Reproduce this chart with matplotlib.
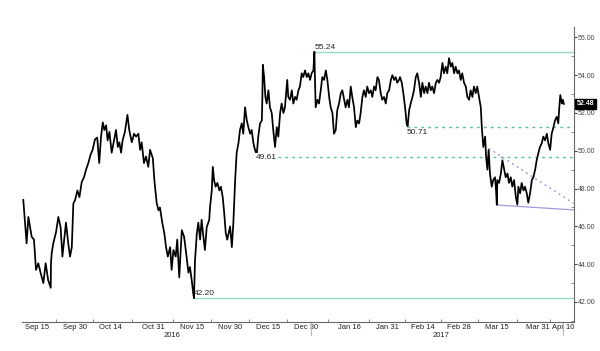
import pandas as pd
import matplotlib.pyplot as plt
import matplotlib.transforms as mtransforms

plt.rcParams['font.family'] = ['Liberation Sans Narrow', 'Liberation Sans', 'DejaVu Sans']

base = pd.Timestamp('2016-09-15')

# days after 2016-09-15 and closing price
days = [-5.4, -4.1, -3.4, -2.1, -1.2, -0.4, 0.5, 1.5, 2.5, 3.4, 4.4, 5.4, 5.5, 5.8, 6.4, 7.5, 8.4, 9.3,
        10.0, 10.7, 11.4, 12.3, 13.0, 13.7, 14.3, 15.0, 15.9, 16.7, 17.6, 18.5, 19.3, 20.2, 21.1, 21.9,
        22.8, 23.7, 24.5, 25.2, 25.9, 26.5, 27.2, 27.8, 28.5, 29.4, 30.3, 31.1, 31.8, 32.4, 33.1, 33.7,
        34.6, 35.6, 36.3, 37.3, 38.2, 39.0, 39.9, 40.6, 41.2, 42.1, 42.9, 43.8, 44.5, 45.6, 46.2, 47.1,
        47.8, 48.4, 49.3, 50.1, 50.8, 51.5, 52.4, 53.0, 53.7, 54.6, 55.2, 56.0, 57.0, 57.9, 58.7, 59.6,
        60.2, 60.9, 61.5, 61.8, 62.2, 62.9, 63.5, 64.2, 64.8, 65.5, 66.1, 66.8, 67.8, 68.1, 68.8, 69.2,
        69.7, 70.3, 71.0, 71.8, 72.4, 73.1, 73.7, 74.3, 74.9, 76.0, 76.7, 77.3, 78.0, 78.6, 79.3, 79.9,
        80.6, 81.2, 81.9, 82.6, 83.2, 83.9, 84.5, 85.2, 85.8, 86.5, 87.1, 87.8, 88.5, 88.7, 88.9, 89.4,
        89.9, 90.4, 91.1, 91.7, 92.4, 93.0, 93.7, 94.4, 95.0, 95.7, 96.3, 97.0, 97.6, 98.5, 98.9, 99.6,
        100.3, 100.9, 101.6, 102.2, 102.9, 103.5, 104.2, 104.8, 105.5, 106.2, 106.8, 107.5, 108.1, 108.8,
        109.2, 109.4, 109.7, 110.4, 111.0, 111.7, 112.3, 113.0, 113.7, 114.3, 115.0, 115.6, 116.3, 116.9,
        117.6, 118.2, 118.9, 119.6, 120.2, 120.9, 121.5, 122.2, 122.8, 123.5, 124.1, 124.8, 125.5, 126.1,
        126.8, 127.4, 128.1, 128.7, 129.4, 130.0, 130.7, 131.4, 132.0, 132.7, 133.3, 134.0, 134.6, 135.3,
        135.9, 136.6, 137.3, 137.9, 138.6, 139.3, 139.9, 140.6, 141.2, 141.8, 142.5, 142.9, 143.6, 144.2,
        144.9, 145.5, 145.9, 146.5, 147.1, 147.8, 148.4, 149.1, 149.7, 150.4, 151.1, 151.7, 152.4, 153.0,
        153.7, 154.3, 155.0, 155.6, 156.3, 157.0, 157.6, 158.3, 158.9, 159.6, 160.2, 160.9, 161.5, 162.2,
        162.9, 163.5, 164.2, 164.8, 165.5, 166.1, 166.8, 167.4, 168.1, 168.8, 169.4, 170.1, 170.7, 171.4,
        172.0, 172.7, 173.3, 174.0, 174.7, 175.1, 175.5, 175.7, 176.4, 176.8, 177.3, 177.8, 178.3, 179.0,
        179.6, 180.3, 180.7, 181.0, 181.2, 181.9, 182.6, 183.2, 183.9, 184.5, 185.2, 185.8, 186.5, 187.1,
        187.8, 188.5, 189.1, 189.5, 190.2, 190.8, 191.5, 192.1, 192.8, 193.4, 194.1, 194.8, 195.4, 196.1,
        196.7, 197.4, 198.0, 198.7, 199.3, 200.0, 200.7, 201.3, 202.0, 202.6, 203.3, 203.9, 204.6, 205.2,
        205.6, 206.0, 206.6, 207.0, 207.4]
price = [47.4, 45.1, 46.5, 45.45, 45.3, 43.7, 44.05, 43.5, 43.0, 44.05, 43.15, 42.75, 44.05, 44.6, 45.1,
         45.7, 46.5, 45.95, 44.4, 45.3, 46.2, 45.1, 44.4, 44.9, 47.2, 47.4, 47.9, 47.55, 48.35, 48.6, 49.0,
         49.35, 49.8, 50.05, 50.6, 50.7, 49.35, 50.75, 51.5, 51.1, 51.35, 50.55, 51.0, 49.9, 50.55, 51.1,
         50.2, 50.45, 49.9, 50.55, 51.0, 51.9, 51.1, 50.45, 50.9, 50.75, 50.9, 50.05, 50.45, 49.35, 49.7,
         49.15, 50.05, 49.6, 48.45, 47.25, 46.85, 47.0, 46.2, 45.65, 44.9, 44.4, 44.9, 43.7, 44.75, 44.4,
         45.3, 43.3, 45.8, 45.45, 44.6, 43.55, 43.85, 43.15, 42.45, 42.2, 44.2, 45.6, 46.2, 45.3, 46.35,
         45.45, 44.75, 45.95, 46.35, 47.0, 47.9, 49.15, 48.45, 48.1, 48.3, 47.9, 48.1, 47.55, 46.7, 45.65,
         45.3, 46.0, 44.9, 46.2, 48.45, 49.9, 50.4, 51.1, 51.45, 50.9, 52.3, 51.6, 51.25, 50.9, 51.1, 50.4,
         50.05, 49.8, 50.75, 51.45, 51.6, 52.7, 54.55, 53.9, 52.85, 52.5, 53.2, 52.3, 52.0, 51.1, 50.2,
         51.25, 50.75, 52.0, 52.5, 52.0, 52.3, 53.75, 52.85, 52.7, 53.2, 52.5, 52.85, 52.7, 53.2, 53.4,
         54.1, 53.9, 54.25, 53.9, 54.1, 53.75, 54.1, 54.25, 55.24, 53.9, 52.3, 52.7, 52.5, 53.2, 53.9,
         53.75, 54.25, 53.75, 52.85, 52.3, 52.0, 50.9, 51.1, 52.15, 52.5, 53.05, 53.2, 52.7, 52.3, 52.7,
         52.3, 53.4, 52.85, 52.3, 51.25, 51.6, 51.45, 52.0, 52.85, 53.2, 52.85, 53.4, 53.05, 53.2, 52.85,
         53.4, 53.2, 53.9, 53.75, 53.05, 52.7, 52.85, 52.5, 53.05, 53.2, 53.75, 54.0, 53.75, 53.9, 53.6,
         53.75, 53.9, 53.6, 53.05, 52.3, 51.45, 51.3, 52.15, 52.5, 52.85, 53.2, 53.9, 54.1, 53.6, 52.85,
         53.6, 53.05, 53.4, 53.05, 53.6, 53.2, 53.4, 53.05, 53.6, 53.75, 53.6, 53.9, 54.65, 54.1, 54.45,
         54.1, 54.9, 54.45, 54.65, 54.1, 54.45, 54.1, 54.25, 53.75, 54.1, 53.6, 53.4, 52.85, 52.7, 53.2,
         52.85, 53.4, 53.05, 53.4, 52.85, 52.3, 51.25, 50.55, 50.2, 50.75, 49.65, 49.0, 50.05, 48.8, 48.1,
         48.45, 48.6, 47.9, 47.15, 48.45, 48.3, 48.8, 49.5, 49.0, 48.6, 48.8, 48.3, 48.6, 48.1, 48.45,
         47.55, 47.15, 48.1, 47.75, 48.3, 47.9, 48.1, 47.75, 47.25, 47.75, 48.45, 48.6, 49.0, 49.5, 49.9,
         50.2, 50.4, 50.75, 50.55, 50.9, 50.4, 50.05, 50.9, 51.25, 51.6, 51.8, 51.45, 52.3, 52.95, 52.5,
         52.7, 52.48]

tick_dates = ['2016-09-15', '2016-09-30', '2016-10-14', '2016-10-31', '2016-11-15', '2016-11-30',
              '2016-12-15', '2016-12-30', '2017-01-16', '2017-01-31', '2017-02-14', '2017-02-28',
              '2017-03-15', '2017-03-31', '2017-04-10']
tick_labels = ['Sep 15', 'Sep 30', 'Oct 14', 'Oct 31', 'Nov 15', 'Nov 30', 'Dec 15', 'Dec 30',
               'Jan 16', 'Jan 31', 'Feb 14', 'Feb 28', 'Mar 15', 'Mar 31', 'Apr 10']

# support / resistance levels: (start day, level drawn, label)
solid_levels = [(109.2, 55.24, '55.24'), (61.8, 42.20, '42.20')]
dashed_levels = [(86.6, 49.66, '49.61'), (145.7, 51.25, '50.71')]
trend_down = ([177.8, 211.2], [50.13, 47.22])
trend_low = ([181.0, 211.4], [47.13, 46.87])
last_price = 52.48

teal = '#97dcc4'
green_dash = '#55c48e'
lilac = '#9c9cd6'

fig = plt.figure(figsize=(6, 3.51), dpi=100)
ax = fig.add_axes([0.0367, 0.0826, 0.92, 0.8405])

ax.plot(days, price, color='black', lw=1.25, zorder=3)

for start, lvl, lab in solid_levels:
    ax.plot([start, 211.4], [lvl, lvl], color=teal, lw=1.0, zorder=2)
ax.text(solid_levels[0][0], solid_levels[0][1] + 0.05, solid_levels[0][2], fontsize=6,
        ha='left', va='bottom', color='#222222')
ax.text(solid_levels[1][0], solid_levels[1][1] + 0.05, solid_levels[1][2], fontsize=6,
        ha='left', va='bottom', color='#222222')

for start, lvl, lab in dashed_levels:
    ax.plot([start, 211.4], [lvl, lvl], color=green_dash, lw=1.0, ls=(0, (2, 3)), zorder=2)
ax.text(dashed_levels[0][0] - 0.5, dashed_levels[0][1], dashed_levels[0][2], fontsize=6,
        ha='left', va='center', color='#222222', zorder=4,
        bbox=dict(facecolor='white', edgecolor='none', pad=0.3))
ax.text(dashed_levels[1][0], dashed_levels[1][1] - 0.1, dashed_levels[1][2], fontsize=6,
        ha='left', va='top', color='#222222')

ax.plot(trend_down[0], trend_down[1], color=lilac, lw=1.0, ls=(0, (1.5, 2.5)), zorder=2)
ax.plot(trend_low[0], trend_low[1], color=lilac, lw=0.9, zorder=2)

ax.set_xlim(-5.9, 211.4)
ax.set_ylim(40.94, 56.55)

tick_pos = [(pd.Timestamp(d) - base).days for d in tick_dates]
ax.set_xticks(tick_pos)
ax.set_xticklabels(tick_labels)
ax.set_xticks([(a + b) / 2 for a, b in zip(tick_pos[:-1], tick_pos[1:])], minor=True)
ax.tick_params(axis='x', which='major', length=0, labelsize=5.5, pad=1.5, colors='#222222')
ax.tick_params(axis='x', which='minor', length=2, direction='in', color='#777777')

ax.yaxis.tick_right()
ax.set_yticks(range(42, 57, 2))
ax.set_yticks(range(41, 57, 2), minor=True)
ax.set_yticklabels([f'{v:.2f}' for v in range(42, 57, 2)])
ax.tick_params(axis='y', which='major', length=2, labelsize=5, pad=1, colors='#444444')
ax.tick_params(axis='y', which='minor', length=2, direction='in', color='#777777')

for side in ['top', 'left']:
    ax.spines[side].set_visible(False)
for side in ['bottom', 'right']:
    ax.spines[side].set_color('#666666')
    ax.spines[side].set_linewidth(0.8)

trans = mtransforms.blended_transform_factory(ax.transData, ax.transAxes)
ax.text((pd.Timestamp('2016-11-07') - base).days, -0.033, '2016', transform=trans,
        fontsize=5.5, ha='center', va='top', color='#222222')
ax.text((pd.Timestamp('2017-02-21') - base).days, -0.033, '2017', transform=trans,
        fontsize=5.5, ha='center', va='top', color='#222222')
for d in ['2017-01-01', '2017-04-10']:
    ax.plot([(pd.Timestamp(d) - base).days] * 2, [-0.045, -0.005], transform=trans,
            color='#bbbbbb', lw=0.8, clip_on=False)

ax.annotate(f'{last_price:.2f}', xy=(1.0, last_price), xycoords=('axes fraction', 'data'),
            xytext=(2, 0), textcoords='offset points', fontsize=5, color='white',
            ha='left', va='center', fontweight='bold',
            bbox=dict(boxstyle='square,pad=0.2', facecolor='black', edgecolor='black'))

plt.savefig('out.png', dpi=100)
